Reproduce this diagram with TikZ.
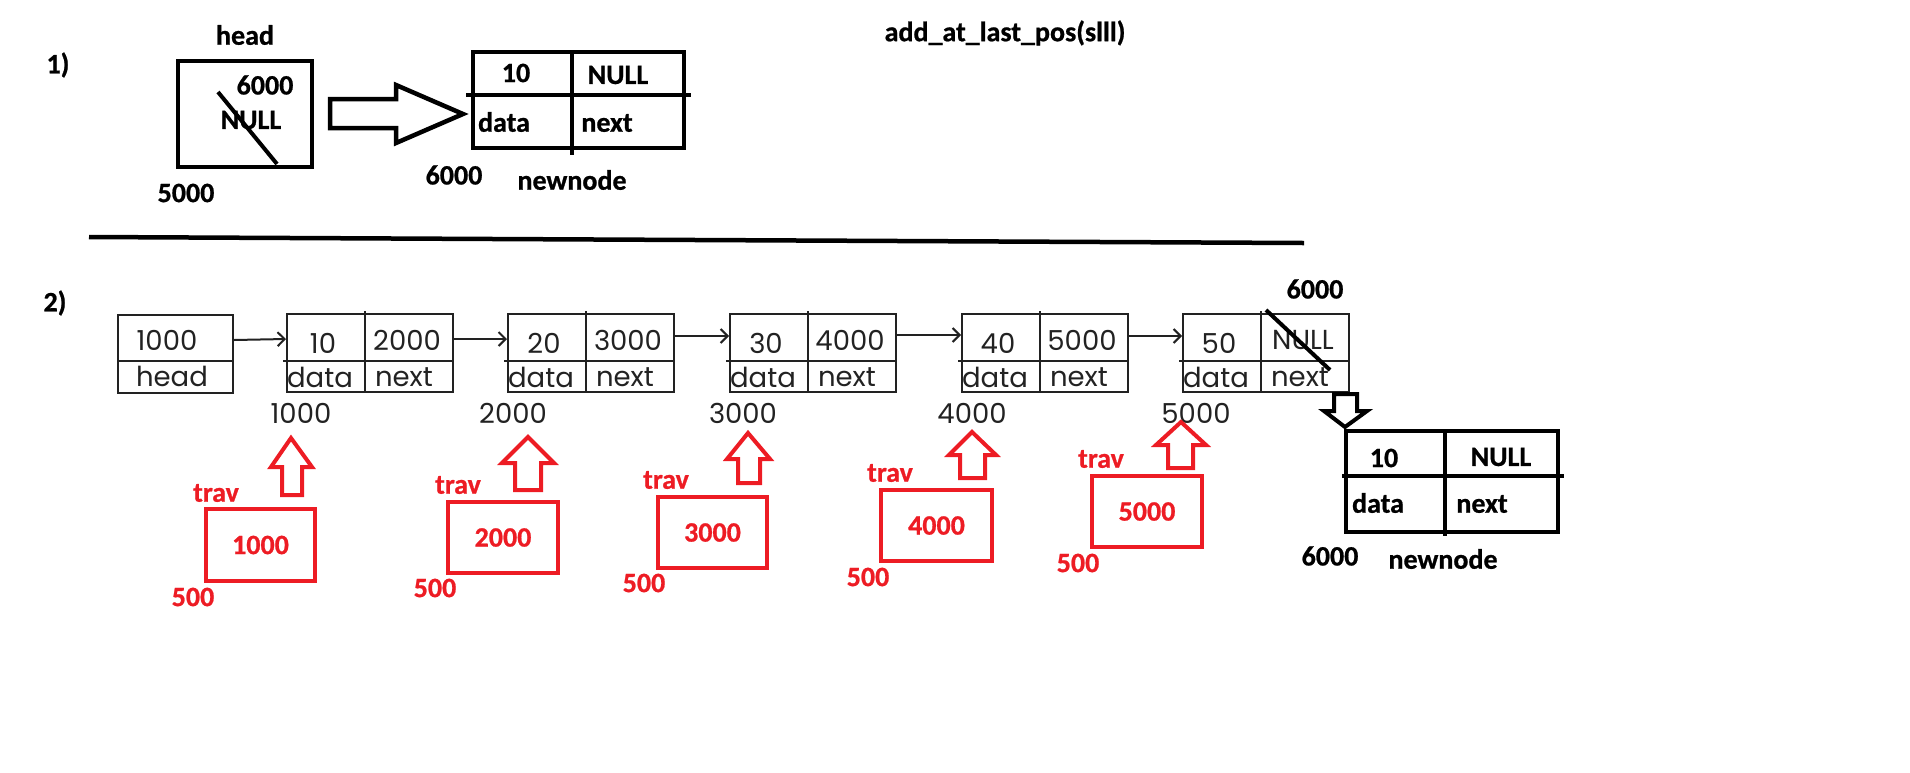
\documentclass[tikz,border=0pt]{standalone}
\usepackage{fontspec}
\setmainfont{Carlito}[BoldFeatures={FakeBold=0.8}]
\newfontfamily\tabfont{Poppins}
\usetikzlibrary{arrows.meta}
\definecolor{pred}{HTML}{ED1C24}
\definecolor{tabgray}{HTML}{222222}
\tikzset{
  lbl/.style={font=\bfseries\fontsize{28}{32}\selectfont, inner sep=0pt},
  redlbl/.style={lbl, text=pred},
  tabtxt/.style={font=\tabfont\fontsize{27.5}{30}\selectfont, text=tabgray, inner sep=0pt},
  tabbox/.style={draw=tabgray, line width=2pt, inner sep=0pt},
  tabline/.style={draw=tabgray, line width=2pt},
  thickbox/.style={draw=black, line width=4.5pt, inner sep=0pt},
  thickline/.style={draw=black, line width=4.5pt},
  redbox/.style={draw=pred, line width=4.5pt, inner sep=0pt, font=\bfseries\fontsize{28}{32}\selectfont, text=pred},
  redarrow/.style={draw=pred, line width=4pt, fill=white},
  tabarrow/.style={-{Straight Barb[length=7pt,width=14pt]}, line width=2pt, draw=tabgray},
}
\begin{document}
\begin{tikzpicture}[x=1pt,y=-1pt]
\useasboundingbox (0,0) rectangle (1910,772);

% ---------- title ----------
\node[lbl] (title) at (1005,33) {add\_at\_last\_pos(slll)};

% ---------- part 1 ----------
\node[lbl] (one) at (58,65) {1)};
\node[lbl] (headlbl) at (245,35) {head};
\node[thickbox, minimum width=134pt, minimum height=106pt] (hbox) at (245,114) {};
\node[lbl] (h6000) at (265,85) {6000};
\node[lbl] (hnull) at (251,120) {NULL};
\draw[line width=4pt] (218,92) -- (277,164);
\node[lbl] (h5000) at (186,193) {5000};

\draw[thickline, fill=white, line join=miter] (330,99) -- (396,99) -- (396,85) -- (463,114) -- (396,143) -- (396,128) -- (330,128) -- cycle;

\node[thickbox, minimum width=211pt, minimum height=96pt] (nn1) at (578.5,100) {};
\draw[thickline] (466,95) -- (691,95);
\draw[thickline] (572,52) -- (572,155);
\node[lbl] (nn1a) at (516,73) {10};
\node[lbl] (nn1b) at (618,75) {NULL};
\node[lbl] (nn1c) at (504,122) {data};
\node[lbl] (nn1d) at (607,123) {next};
\node[lbl] (nn1addr) at (454,175) {6000};
\node[lbl] (nn1name) at (572,180) {newnode};

% separator
\draw[line width=4.5pt] (89,237) -- (1304,243);

% ---------- part 2 ----------
\node[lbl] (two) at (55,303) {2)};

\node[tabbox, minimum width=115pt, minimum height=78pt] (head) at (175.5,354) {};
\draw[tabline] (118,361) -- (233,361);
\node[tabtxt] (headv) at (167,340) {1000};
\node[tabtxt] (headn) at (172,376) {head};

\foreach \i/\L/\dv/\nv/\ax/\aw in {1/287/10/2000/301/1000, 2/508/20/3000/513/2000, 3/730/30/4000/743/3000, 4/962/40/5000/972/4000, 5/1183/50/NULL/1196/5000}{
  \node[tabbox, minimum width=166pt, minimum height=78pt] (n\i) at (\L+83,353) {};
  \draw[tabline] (\L-4,361) -- (\L+166,361);
  \draw[tabline] (\L+78,311) -- (\L+78,392);
  \node[tabtxt] (d\i) at (\L+36,343) {\dv};
  \node[tabtxt] (v\i) at (\L+120,340) {\nv};
  \node[tabtxt] (dl\i) at (\L+33,377) {data};
  \node[tabtxt] (nl\i) at (\L+117,377) {next};
  \node[tabtxt] (a\i) at (\ax,413) {\aw};
}

\draw[tabarrow] ([yshift=14pt]head.east) -- ([yshift=14pt]n1.west);
\draw[tabarrow] ([yshift=14pt]n1.east) -- ([yshift=14pt]n2.west);
\draw[tabarrow] ([yshift=17pt]n2.east) -- ([yshift=17pt]n3.west);
\draw[tabarrow] ([yshift=18pt]n3.east) -- ([yshift=18pt]n4.west);
\draw[tabarrow] ([yshift=17pt]n4.east) -- ([yshift=17pt]n5.west);

% slash over NULL of last node
\draw[line width=4pt] (1266,310) -- (1330,370);
\node[lbl] (top6000) at (1315,289) {6000};

% black down arrow
\draw[thickline, line width=4pt, fill=white, line join=miter] (1334,394) -- (1357,394) -- (1357,411) -- (1367,411) -- (1345,427) -- (1324,411) -- (1334,411) -- cycle;

% newnode 2
\node[thickbox, minimum width=212pt, minimum height=101pt] (nn2) at (1452,481.5) {};
\draw[thickline] (1342,476) -- (1564,476);
\draw[thickline] (1445,431) -- (1445,536);
\node[lbl] (nn2a) at (1384,458) {10};
\node[lbl] (nn2b) at (1501,457) {NULL};
\node[lbl] (nn2c) at (1378,503) {data};
\node[lbl] (nn2d) at (1482,504) {next};
\node[lbl] (nn2addr) at (1330,556) {6000};
\node[lbl] (nn2name) at (1443,559) {newnode};

% ---------- trav boxes ----------
\foreach \i/\x/\y/\w/\h/\tx/\ty/\fx/\fy/\val in {
  1/260.5/545/109/72/216/493/193/597/1000,
  2/503/537.5/110/71/458/485/435/588/2000,
  3/712.5/532.5/109/71/666/480/644/583/3000,
  4/936.5/525.5/111/71/890/473/868/577/4000,
  5/1147/511.5/110/71/1101/459/1078/563/5000}{
  \node[redbox, minimum width=\w pt, minimum height=\h pt] (t\i) at (\x,\y) {\val};
  \node[redlbl] (tl\i) at (\tx,\ty) {trav};
  \node[redlbl] (tf\i) at (\fx,\fy) {500};
}

% red hollow up arrows: shaftL, shaftR, headL, headR, base, tipx, tipy, bottom
\foreach \sl/\sr/\hl/\hr/\b/\tx/\ty/\bo in {
  282/302/271/312/467/291/438/495,
  515/541/502/554/463/528/437/490,
  738/760/727/770/459/748/433/483,
  960/985/949/996/455/972/432/478,
  1168/1193/1156/1206/445/1181/422/468}{
  \draw[redarrow, line join=miter] (\sl,\bo) -- (\sl,\b) -- (\hl,\b) -- (\tx,\ty) -- (\hr,\b) -- (\sr,\b) -- (\sr,\bo) -- cycle;
}
\end{tikzpicture}
\end{document}
